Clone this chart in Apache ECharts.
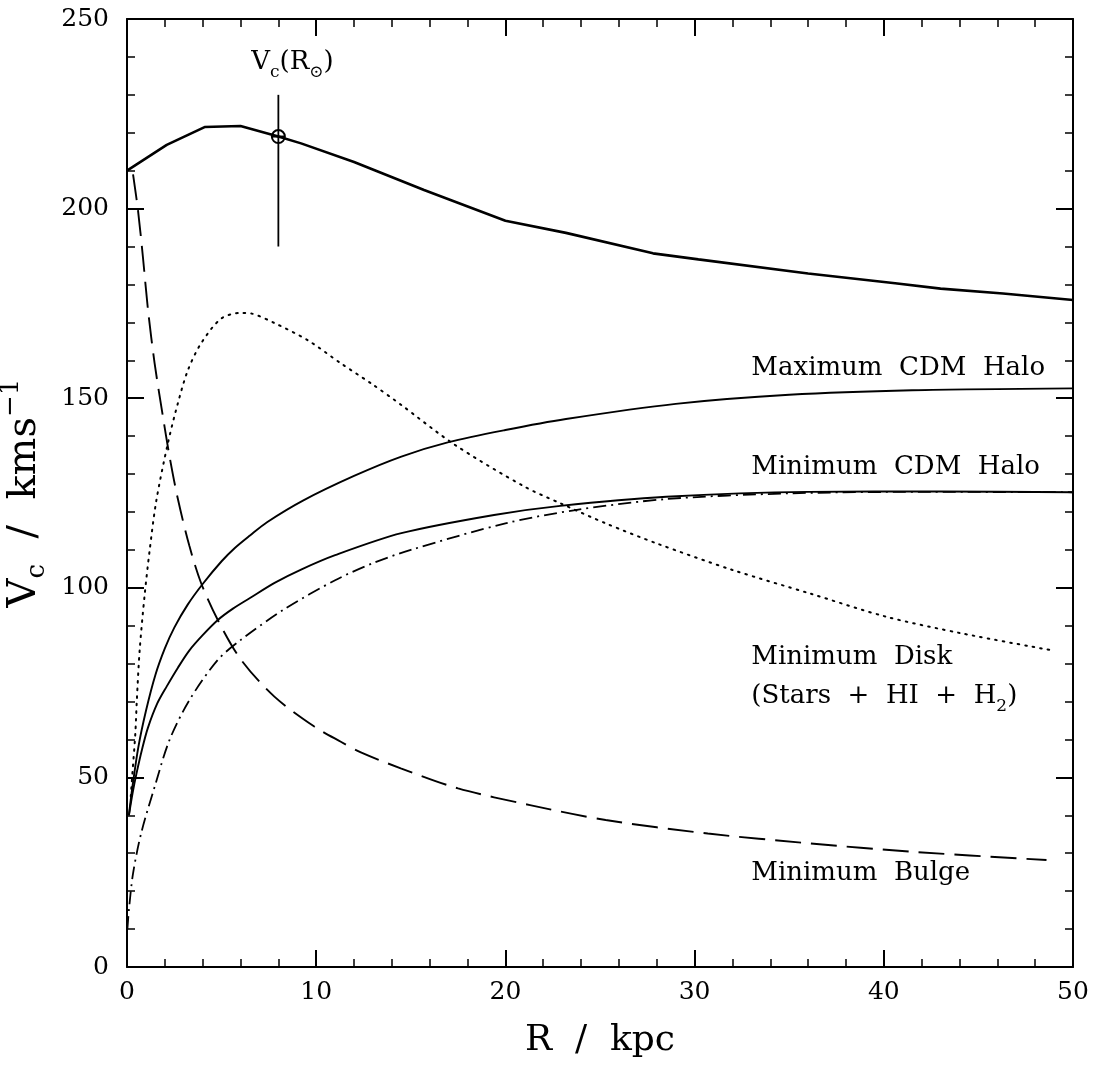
<!DOCTYPE html>
<html><head><meta charset="utf-8">
<script src="https://cdn.jsdelivr.net/npm/echarts@6/dist/echarts.min.js"></script>
<style>html,body{margin:0;padding:0;background:#fff}#c{width:1101px;height:1065px}</style>
</head><body><div id="c"></div>
<script>
// ---- data (R in kpc, Vc in km/s) ----
const totalR = [0, 2.1, 4.1, 6.0, 8.0, 9.2, 12, 15.7, 20, 23.2, 27.8, 30.2, 36, 40.6, 43, 46.3, 50];
const totalV = [210, 216.8, 221.5, 221.8, 219, 217.2, 212.3, 204.9, 196.8, 193.6, 188.2, 186.6, 182.9, 180.3, 178.9, 177.6, 175.9];

const maxHaloR = [0.1, 0.3, 0.6, 1.0, 1.5, 2.0, 2.5, 3.2, 4.0, 5.0, 5.7, 6.5, 7.4, 9.3, 12, 14.5, 17, 20, 23.2, 29, 35, 41.5, 50];
const maxHaloV = [40, 48, 58, 67.5, 77, 84, 89.5, 95.5, 101, 107, 110.5, 113.8, 117.3, 123, 129.5, 134.6, 138.4, 141.6, 144.5, 148.5, 150.9, 152.1, 152.6];

const minHaloR = [0.1, 0.3, 0.5, 0.8, 1.1, 1.6, 2.1, 2.7, 3.3, 4.0, 4.8, 5.6, 6.5, 7.8, 9.2, 11, 14.5, 19.4, 22.9, 28.5, 36, 43, 50];
const minHaloV = [40, 46, 51, 57.5, 63, 69.5, 74, 79, 83.5, 87.5, 91.5, 94.5, 97.3, 101.3, 104.8, 108.6, 114.4, 119.2, 121.6, 124, 125.3, 125.4, 125.2];

const dashDotR = [0.02, 0.1, 0.32, 0.75, 1.46, 2.25, 3.3, 4.8, 6.0, 8.3, 11, 13, 15, 20, 23.7, 28.5, 35, 42, 50];
const dashDotV = [10, 15, 24.7, 35.3, 47.5, 59.9, 70.4, 81, 86.2, 94.3, 102, 106.5, 110, 117, 120.5, 123.4, 124.9, 125.3, 125.2];

const diskR = [0.2, 0.3, 0.44, 0.52, 0.67, 0.93, 1.2, 1.55, 2.16, 2.69, 3.22, 3.92, 4.98, 6.0, 6.6, 7.8, 9.55, 11.3, 12.9, 14.5, 17.3, 21, 22.9, 25.3, 28, 32, 36.1, 40.1, 44.1, 49];
const diskV = [45, 52, 61.6, 70.4, 83.6, 98, 110, 123, 138.1, 148.7, 157.4, 164.5, 171, 172.5, 172.3, 169.8, 165.3, 159.2, 153.9, 148.2, 137.8, 126.7, 122.3, 117, 111.7, 104.7, 98.5, 92.4, 88, 83.4];

const bulgeR = [0.32, 0.58, 0.84, 1.11, 1.46, 1.9, 2.25, 2.69, 3.3, 3.92, 4.8, 6.03, 7.79, 9.9, 11.3, 12.36, 14.47, 17.5, 21.3, 25.3, 30.7, 36.1, 41.45, 48.6];
const bulgeV = [209, 199.6, 187.3, 173.3, 159.2, 145.1, 134.6, 123.4, 111, 101.2, 91.5, 81, 71.3, 63.4, 59.4, 56.6, 52.4, 47.1, 42.7, 38.75, 35.2, 32.6, 30.4, 28.2];

const sunR = 8.0, sunV = 219, sunVlo = 190, sunVhi = 230;

const xTicks = [0, 10, 20, 30, 40, 50];
const yTicks = [0, 50, 100, 150, 200, 250];

const labelTexts = {
  maxHalo: 'Maximum  CDM  Halo',
  minHalo: 'Minimum  CDM  Halo',
  disk1: 'Minimum  Disk',
  bulge: 'Minimum  Bulge'
};

// ---- build ----
const zip = (a, b) => a.map((v, i) => [v, b[i]]);
const F = 'DejaVu Serif';
const K = '#000';

function axisCommon(showLabel) {
  return {
    type: 'value',
    axisLine: { show: true, onZero: false, lineStyle: { color: K, width: 2 } },
    axisTick: { show: true, inside: true, length: 17, lineStyle: { color: K, width: 2 } },
    minorTick: { show: true, splitNumber: 5, length: 8, lineStyle: { color: K, width: 1.5 } },
    splitLine: { show: false },
    axisLabel: { show: showLabel, color: K, fontFamily: F, fontSize: 25 }
  };
}

function textSeries(x, y, rich, fmt) {
  return {
    type: 'scatter', silent: true, symbolSize: 0, z: 10,
    data: [[x, y]],
    itemStyle: { opacity: 1, color: K },
    label: { show: true, position: 'right', distance: 0, formatter: fmt, color: K, opacity: 1,
      fontFamily: F, fontSize: 26, rich: rich }
  };
}

const lblRich = {
  a: { fontFamily: F, fontSize: 26, color: K, lineHeight: 36 },
  s: { fontFamily: F, fontSize: 17, color: K, lineHeight: 14, verticalAlign: 'bottom' }
};

const option = {
  animation: false,
  backgroundColor: '#fff',
  grid: { left: 127, right: 28, top: 19, bottom: 98, containLabel: false, outerBoundsMode: 'none' },
  xAxis: [
    Object.assign(axisCommon(true), {
      min: 0, max: 50, interval: 10, position: 'bottom',
      axisLabel: { show: true, color: K, fontFamily: F, fontSize: 25, margin: 13,
        formatter: v => xTicks.includes(v) ? String(v) : '' },
      name: '{a|R  /  kpc}', nameLocation: 'middle', nameGap: 56,
      nameTextStyle: { rich: { a: { fontFamily: F, fontSize: 36, color: K } } }
    }),
    Object.assign(axisCommon(false), { min: 0, max: 50, interval: 10, position: 'top' })
  ],
  yAxis: [
    Object.assign(axisCommon(true), {
      min: 0, max: 250, interval: 50, position: 'left',
      axisLabel: { show: true, color: K, fontFamily: F, fontSize: 25, margin: 18,
        formatter: v => yTicks.includes(v) ? String(v) : '' },
      name: '{a|V}{s|c}{a|  /  kms}{p|−1}', nameLocation: 'middle', nameGap: 72, nameRotate: 90,
      nameTextStyle: { rich: {
        a: { fontFamily: F, fontSize: 40, color: K, lineHeight: 52 },
        s: { fontFamily: F, fontSize: 26, color: K, lineHeight: 22, verticalAlign: 'bottom' },
        p: { fontFamily: F, fontSize: 26, color: K, lineHeight: 22, verticalAlign: 'top' }
      } }
    }),
    Object.assign(axisCommon(false), { min: 0, max: 250, interval: 50, position: 'right' })
  ],
  series: [
    { name: 'Total', type: 'line', data: zip(totalR, totalV), showSymbol: false, smooth: false,
      lineStyle: { color: K, width: 2.6 }, z: 5 },
    { name: 'Maximum CDM Halo', type: 'line', data: zip(maxHaloR, maxHaloV), showSymbol: false, smooth: 0.3,
      lineStyle: { color: K, width: 1.9 } },
    { name: 'Minimum CDM Halo', type: 'line', data: zip(minHaloR, minHaloV), showSymbol: false, smooth: 0.3,
      lineStyle: { color: K, width: 1.9 } },
    { name: 'Halo (dash-dot)', type: 'line', data: zip(dashDotR, dashDotV), showSymbol: false, smooth: 0.3,
      lineStyle: { color: K, width: 1.8, type: [13, 5, 2, 5] } },
    { name: 'Minimum Disk', type: 'line', data: zip(diskR, diskV), showSymbol: false, smooth: 0.3,
      lineStyle: { color: K, width: 2, type: [1.6, 6], cap: 'round' } },
    { name: 'Minimum Bulge', type: 'line', data: zip(bulgeR, bulgeV), showSymbol: false, smooth: 0.3,
      lineStyle: { color: K, width: 1.9, type: [26, 10] } },
    { name: 'Vc error', type: 'line', data: [[sunR, sunVlo], [sunR, sunVhi]], showSymbol: false,
      lineStyle: { color: K, width: 1.8 }, z: 6 },
    { name: 'Sun ring', type: 'scatter', data: [[sunR, sunV]], symbol: 'circle', symbolSize: 13,
      itemStyle: { color: 'rgba(0,0,0,0)', borderColor: K, borderWidth: 2, opacity: 1 }, z: 7, silent: true },
    { name: 'Sun bar', type: 'scatter', data: [[sunR, sunV]], symbol: 'rect', symbolSize: [13, 2],
      itemStyle: { color: K, opacity: 1 }, z: 7, silent: true },
    textSeries(6.57, 238.5, lblRich, '{a|V}{s|c}{a|(R}{s|⊙}{a|)}'),
    textSeries(33.0, 157.8, lblRich, '{a|' + labelTexts.maxHalo + '}'),
    textSeries(33.0, 131.9, lblRich, '{a|' + labelTexts.minHalo + '}'),
    textSeries(33.0, 81.8, lblRich, '{a|' + labelTexts.disk1 + '}'),
    textSeries(33.0, 71.3, lblRich, '{a|(Stars  +  HI  +  H}{s|2}{a|)}'),
    textSeries(33.0, 24.7, lblRich, '{a|' + labelTexts.bulge + '}')
  ]
};

const chart = echarts.init(document.getElementById('c'), null, { renderer: 'canvas' });
chart.setOption(option);
</script>
</body></html>
